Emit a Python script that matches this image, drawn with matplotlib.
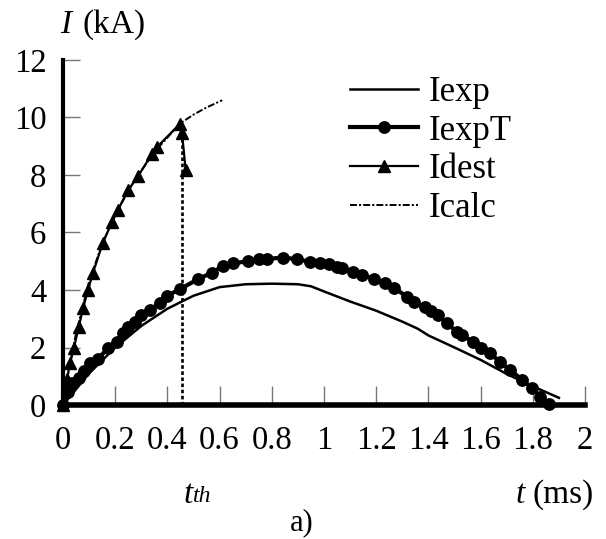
import numpy as np
import matplotlib
matplotlib.use("Agg")
import matplotlib.pyplot as plt

plt.rcParams['font.family'] = ['Liberation Serif', 'DejaVu Serif']
plt.rcParams['lines.scale_dashes'] = False

# datos (t en ms, I en kA)
t_exp = [0, 0.05, 0.1, 0.2, 0.3, 0.4, 0.5, 0.6, 0.7, 0.8, 0.9, 0.95, 1.0, 1.1,
         1.2, 1.3, 1.36, 1.4, 1.5, 1.6, 1.7, 1.8, 1.9]
i_exp = [0, 0.55, 1.1, 2.0, 2.75, 3.35, 3.8, 4.1, 4.2, 4.22, 4.2, 4.13, 3.95, 3.6,
         3.28, 2.9, 2.65, 2.42, 2.0, 1.57, 1.08, 0.65, 0.25]

t_expT = [0, 0.02, 0.035, 0.06, 0.08, 0.103, 0.134, 0.172, 0.207, 0.23, 0.25, 0.276,
          0.30, 0.333, 0.37, 0.40, 0.448, 0.518, 0.57, 0.613, 0.651, 0.709, 0.751,
          0.782, 0.843, 0.897, 0.946, 0.985, 1.02, 1.05, 1.07, 1.11, 1.146, 1.19,
          1.234, 1.27, 1.318, 1.345, 1.387, 1.41, 1.437, 1.47, 1.51, 1.53, 1.57,
          1.60, 1.636, 1.674, 1.713, 1.76, 1.797, 1.827, 1.862]
i_expT = [0, 0.45, 0.75, 0.95, 1.2, 1.46, 1.6, 1.98, 2.2, 2.5, 2.7, 2.9, 3.12, 3.3,
          3.55, 3.8, 4.03, 4.38, 4.6, 4.84, 4.93, 5.0, 5.07, 5.08, 5.13, 5.07, 4.98,
          4.93, 4.9, 4.8, 4.76, 4.63, 4.52, 4.4, 4.24, 4.07, 3.76, 3.58, 3.4, 3.27,
          3.13, 2.85, 2.54, 2.43, 2.2, 1.98, 1.8, 1.5, 1.22, 0.87, 0.58, 0.28, 0.03]

t_dest = [0, 0.015, 0.027, 0.042, 0.06, 0.077, 0.096, 0.115, 0.153, 0.188, 0.21,
          0.25, 0.287, 0.34, 0.36, 0.448, 0.456, 0.47]
i_dest = [0, 0.9, 1.45, 2.0, 2.7, 3.37, 4.0, 4.6, 5.65, 6.37, 6.78, 7.48, 7.95,
          8.72, 8.97, 9.78, 9.46, 8.17]

t_calc = [0, 0.02, 0.05, 0.1, 0.15, 0.2, 0.25, 0.3, 0.35, 0.4, 0.45, 0.5, 0.55, 0.61]
i_calc = [0, 1.1, 2.5, 4.3, 5.6, 6.6, 7.45, 8.15, 8.8, 9.3, 9.8, 10.1, 10.35, 10.6]

# tiempo umbral
t_th = 0.456
i_th = 9.46

xticks = [0, 0.2, 0.4, 0.6, 0.8, 1, 1.2, 1.4, 1.6, 1.8, 2]
xlabels = ["0", "0.2", "0.4", "0.6", "0.8", "1", "1.2", "1.4", "1.6", "1.8", "2"]
yticks = [0, 2, 4, 6, 8, 10, 12]

fig = plt.figure(figsize=(6.06, 5.39), dpi=100)
ax = fig.add_axes([63 / 606, 1 - 405 / 539, 522 / 606, 345 / 539])

ax.plot(t_exp, i_exp, color="black", lw=1.8, label="Iexp", clip_on=False)
ax.plot(t_expT, i_expT, color="black", lw=3, marker="o", ms=8.2,
        label="IexpT", clip_on=False)
ax.plot(t_dest, i_dest, color="black", lw=1.6, marker="^", ms=8,
        label="Idest", clip_on=False)
ax.plot(t_calc, i_calc, color="black", lw=1.4, dashes=(5, 1.5, 1.5, 1.5),
        label="Icalc")
ax.plot([t_th, t_th], [0, i_th], color="black", lw=1.9, dashes=(2.6, 1.8))

ax.set_xlim(0, 2)
ax.set_ylim(0, 12)
ax.set_xticks(xticks)
ax.set_xticklabels(xlabels)
ax.set_yticks(yticks)

for s in ["top", "right"]:
    ax.spines[s].set_visible(False)
ax.spines["left"].set_linewidth(3)
ax.spines["bottom"].set_linewidth(4)

ax.tick_params(axis="x", direction="in", length=14, width=1, color="#777777",
               labelsize=23.5, pad=15)
ax.tick_params(axis="y", direction="in", length=12, width=1, color="#777777",
               labelsize=23.5, pad=12)

ax.legend(loc="upper left", bbox_to_anchor=(350 / 606, 1 - 76 / 539),
          bbox_transform=fig.transFigure, frameon=False, fontsize=25,
          handlelength=1.96, handletextpad=0.3, labelspacing=0.16,
          borderpad=0, borderaxespad=0)

# etiquetas de ejes
fig.text(60 / 606, 1 - 25 / 539, "I", style="italic", fontsize=24, va="center")
fig.text(82 / 606, 1 - 25 / 539, "(kA)", fontsize=24, va="center")
fig.text(516 / 606, 1 - 495 / 539, "t", style="italic", fontsize=24, va="center")
fig.text(532 / 606, 1 - 495 / 539, "(ms)", fontsize=24, va="center")
fig.text(184 / 606, 1 - 495 / 539, "t", style="italic", fontsize=24, va="center")
fig.text(193 / 606, 1 - 497 / 539, "th", style="italic", fontsize=17, va="center")
fig.text(302 / 606, 1 - 530 / 539, "a)", fontsize=22, ha="center", va="baseline")

fig.savefig("out.png", dpi=100)
